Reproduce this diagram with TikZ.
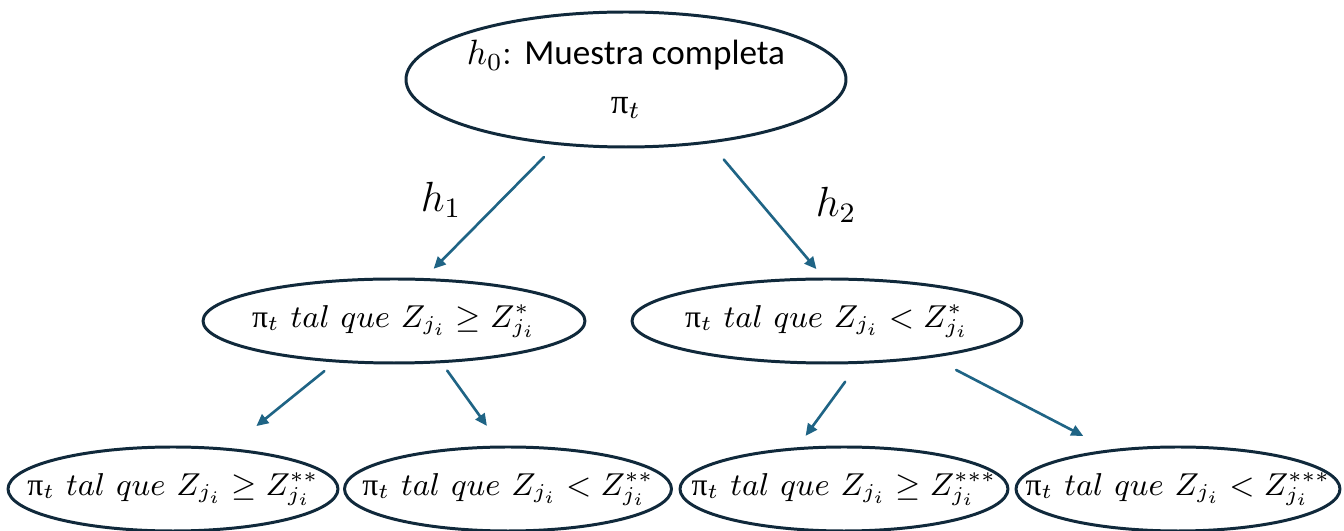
\documentclass[tikz,border=0pt]{standalone}
\usepackage{amsmath,amssymb}
\usepackage{fontspec}
\usepackage{xcolor}
\usepackage{tikz}
\usetikzlibrary{arrows.meta,shapes.geometric}
\setsansfont{Carlito}
\newfontfamily\pifont{Liberation Serif}
\newcommand{\piup}{\mbox{\pifont π}}
\definecolor{treeInk}{HTML}{10293B}
\definecolor{treeArrow}{HTML}{1F6485}
\tikzset{
  tree diagram/.style={font=\normalsize, line cap=round, line join=round},
  tree node/.style={ellipse, draw=treeInk, fill=white, line width=0.85pt,
    inner xsep=-6mm, inner ysep=0pt, outer sep=0pt, minimum height=8.4mm},
  tree leaf/.style={tree node, font=\small},
  tree arrow/.style={-{Triangle[length=1.2mm,width=1.1mm]}, draw=treeArrow,
    line width=0.75pt},
  tree label/.style={font=\large}
}
\begin{document}
\begin{tikzpicture}[tree diagram]
\useasboundingbox (0,0) rectangle (13.44,5.31);
% root
\node[tree node, minimum width=44mm, minimum height=13.5mm, align=center] (root) at (6.26,4.515)
  {$h_0$:~{\sffamily Muestra completa}\\[0.6mm] $\piup_t$};
% first split
\node[tree leaf, minimum width=38.2mm] (left) at (3.94,2.10) {$\piup_t\ tal\ que\ Z_{j_i} \ge Z^{*}_{j_i}$};
\node[tree leaf, minimum width=39mm] (right) at (8.27,2.10) {$\piup_t\ tal\ que\ Z_{j_i} < Z^{*}_{j_i}$};
% second split
\node[tree leaf, minimum width=33mm] (ll) at (1.73,0.42) {$\piup_t\ tal\ que\ Z_{j_i} \ge Z^{**}_{j_i}$};
\node[tree leaf, minimum width=32.7mm] (lr) at (5.08,0.42) {$\piup_t\ tal\ que\ Z_{j_i} < Z^{**}_{j_i}$};
\node[tree leaf, minimum width=32.8mm] (rl) at (8.44,0.42) {$\piup_t\ tal\ que\ Z_{j_i} \ge Z^{***}_{j_i}$};
\node[tree leaf, minimum width=32.4mm] (rr) at (11.78,0.42) {$\piup_t\ tal\ que\ Z_{j_i} < Z^{***}_{j_i}$};
% connectors
\draw[tree arrow, shorten <=1.9mm, shorten >=1.5mm] (root.223) -- (left.55);
\draw[tree arrow, shorten <=2.3mm, shorten >=1.3mm] (root.323) -- (right.93);
\draw[tree arrow, shorten <=1.6mm, shorten >=3.7mm] (left.215) -- (ll.36);
\draw[tree arrow, shorten <=1.1mm, shorten >=2.6mm] (left.319) -- (lr.98);
\draw[tree arrow, shorten <=2.4mm, shorten >=1.6mm] (right.308) -- (rl.140);
\draw[tree arrow, shorten <=2.9mm, shorten >=3.2mm] (right.341) -- (rr.150);
\node[tree label] (h1) at (4.41,3.31) {$h_1$};
\node[tree label] (h2) at (8.36,3.26) {$h_2$};
\end{tikzpicture}
\end{document}
